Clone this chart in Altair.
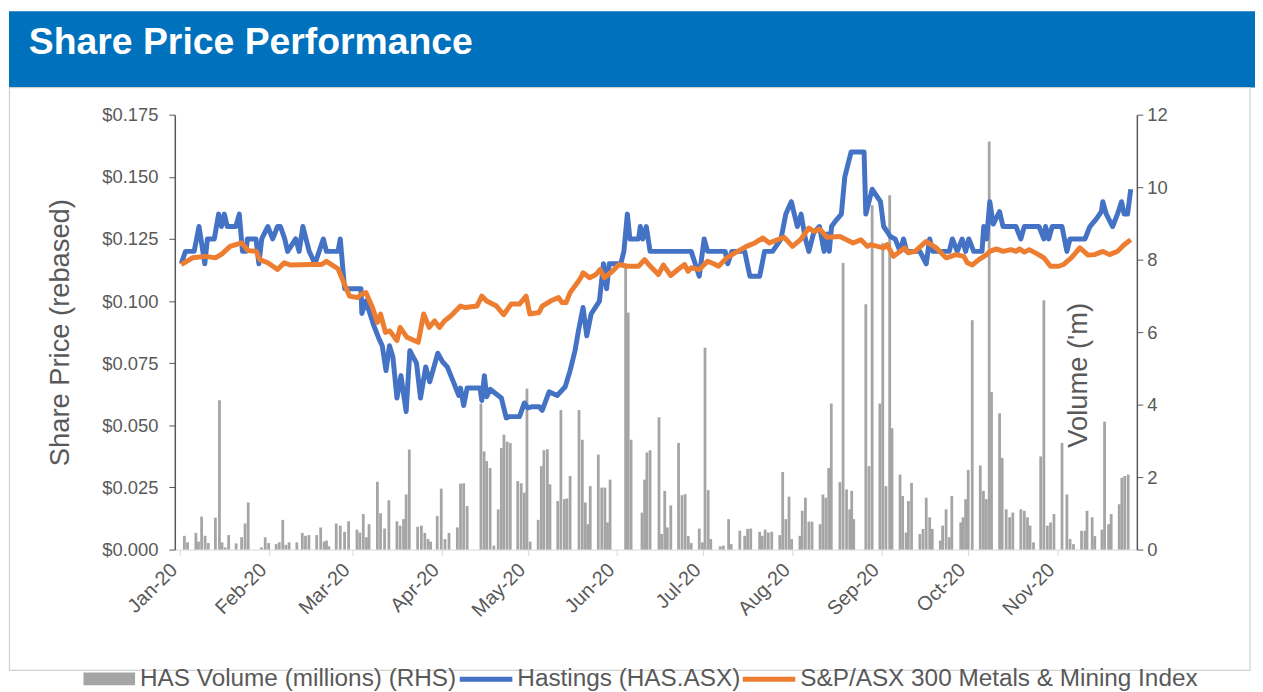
import altair as alt
import pandas as pd

# ---------------- text ----------------
TITLE = "Share Price Performance"
LEFT_TITLE = "Share Price (rebased)"
RIGHT_TITLE = "Volume ('m)"
LEG_VOL = "HAS Volume (millions) (RHS)"
LEG_HAS = "Hastings (HAS.ASX)"
LEG_IDX = "S&P/ASX 300 Metals & Mining Index"
PRICE_TICKS = [0, 0.025, 0.05, 0.075, 0.1, 0.125, 0.15, 0.175]
VOLUME_TICKS = [0, 2, 4, 6, 8, 10, 12]
MONTHS = list(range(1, 12))  # Jan-20 .. Nov-20

# ---------------- data (day = days after 1 Jan 2020) ----------------
hastings = [
    (0.5, 0.115), (2, 0.12), (5, 0.12), (6.7, 0.13), (8.7, 0.115), (9.6, 0.125), (12, 0.125),
    (13.5, 0.135), (14.5, 0.13), (15.5, 0.135), (16.5, 0.13), (19.5, 0.13), (20.7, 0.135),
    (21.8, 0.12), (23, 0.12), (23.5, 0.125), (26.5, 0.125), (27.5, 0.115), (28.5, 0.125),
    (30.6, 0.13), (32.3, 0.125), (34, 0.13), (35, 0.13), (36.5, 0.125), (37.5, 0.12),
    (40.3, 0.125), (41.5, 0.12), (42.8, 0.13), (45, 0.12), (47, 0.115), (49.9, 0.125),
    (51, 0.12), (55, 0.12), (55.8, 0.125), (57.3, 0.105), (63, 0.105), (63.3, 0.095),
    (64.7, 0.1), (67.5, 0.09), (69.2, 0.085), (70.4, 0.082), (71.7, 0.072), (72.9, 0.082),
    (74.1, 0.0775), (75.5, 0.061), (76.9, 0.07), (78.7, 0.0555), (80, 0.08), (82.3, 0.075),
    (83.7, 0.061), (85.5, 0.0735), (86.9, 0.0675), (89.7, 0.079), (91.4, 0.0755), (93, 0.0735),
    (95.3, 0.067), (97, 0.062), (97.6, 0.065), (98.7, 0.058), (99.9, 0.065), (104.4, 0.065),
    (105, 0.06), (105.9, 0.07), (106.7, 0.0615), (107.9, 0.0645), (111.8, 0.061), (113.5, 0.053),
    (114.7, 0.0535), (118.1, 0.0535), (119.8, 0.059), (121, 0.057), (122.6, 0.0575),
    (124.9, 0.0575), (126, 0.056), (128.4, 0.0635), (131.2, 0.062), (134, 0.0655),
    (135.7, 0.072), (137.4, 0.08), (138.6, 0.088), (140.2, 0.0974), (141.5, 0.086),
    (143, 0.0948), (145.9, 0.1), (147.3, 0.115), (148.4, 0.105), (149.3, 0.115), (153.3, 0.115),
    (154.4, 0.12), (155.6, 0.135), (156.5, 0.125), (159.5, 0.125), (160.1, 0.13), (161, 0.125),
    (162.2, 0.13), (163.5, 0.12), (177.8, 0.12), (180.6, 0.11), (182.3, 0.125), (183.5, 0.12),
    (189.6, 0.12), (190.5, 0.115), (191.9, 0.12), (196.4, 0.12), (198.2, 0.11), (201.6, 0.11),
    (203.3, 0.12), (206.1, 0.12), (209, 0.125), (210.7, 0.135), (212.6, 0.14), (214.7, 0.13),
    (216, 0.135), (217.5, 0.125), (218.7, 0.12), (220.4, 0.1275), (222.4, 0.13), (224, 0.12),
    (225.1, 0.127), (225.8, 0.12), (226.6, 0.13), (227.8, 0.132), (230, 0.135), (231.2, 0.15),
    (232.3, 0.155), (233.4, 0.16), (237.9, 0.16), (238.5, 0.135), (240.7, 0.145), (243.6, 0.14),
    (244.7, 0.13), (245.9, 0.128), (247, 0.126), (248.7, 0.125), (250.4, 0.12), (251.6, 0.125),
    (252.7, 0.12), (257.3, 0.12), (259.5, 0.115), (260.7, 0.125), (261.8, 0.12), (267.5, 0.12),
    (268.6, 0.125), (270.3, 0.12), (272, 0.125), (273.2, 0.12), (274.3, 0.125), (276, 0.12),
    (278.9, 0.12), (279.5, 0.13), (280.5, 0.125), (281.6, 0.14), (282.8, 0.131), (285, 0.136),
    (286.2, 0.13), (290.7, 0.13), (292.4, 0.125), (293.6, 0.13), (298.7, 0.13), (300.4, 0.125),
    (301, 0.13), (302.1, 0.125), (303.3, 0.13), (306.7, 0.13), (308.4, 0.12), (309.5, 0.125),
    (314.7, 0.125), (316.4, 0.13), (318.6, 0.133), (320.4, 0.136), (320.9, 0.14), (322.1, 0.135),
    (324.3, 0.13), (326, 0.135), (327.4, 0.14), (328.3, 0.135), (329.5, 0.135), (330.6, 0.145),
]

metals_index = [
    (0.5, 0.1147), (4.4, 0.1174), (9, 0.118), (12.4, 0.1174), (14.7, 0.119), (17.5, 0.122),
    (21.5, 0.1234), (23.8, 0.1203), (26.6, 0.12), (27.8, 0.1167), (30.6, 0.1154), (34, 0.1127),
    (36.3, 0.1154), (38.6, 0.1145), (45.4, 0.1147), (49.3, 0.1147), (51, 0.116), (55, 0.113),
    (57.3, 0.1067), (59, 0.102), (61.9, 0.1014), (63, 0.1027), (64.7, 0.1034), (67, 0.0974),
    (68.7, 0.0914), (69.8, 0.0948), (71.5, 0.0874), (73, 0.088), (75.5, 0.0841), (76.6, 0.0894),
    (79, 0.0854), (82.9, 0.0834), (84.8, 0.0948), (86.7, 0.0894), (88.6, 0.092), (90.3, 0.0894),
    (92, 0.092), (94.2, 0.094), (97.6, 0.098), (99.3, 0.0974), (103.3, 0.098), (105, 0.102),
    (106.7, 0.1), (110.1, 0.098), (112.6, 0.0945), (115.2, 0.0988), (118.1, 0.0988),
    (120.4, 0.102), (121.7, 0.0948), (124.9, 0.0954), (126, 0.098), (128.9, 0.1),
    (131.7, 0.1014), (132.9, 0.0994), (134.3, 0.0994), (135.7, 0.1034), (138.6, 0.108),
    (139.7, 0.11), (140.2, 0.1114), (142.5, 0.1094), (144.7, 0.1107), (146.1, 0.1127),
    (147.6, 0.1094), (150.4, 0.112), (152.7, 0.1147), (155.6, 0.114), (159.5, 0.114),
    (161.6, 0.1167), (163.6, 0.114), (166.4, 0.1107), (168.1, 0.1145), (170.7, 0.1103),
    (173.2, 0.1127), (175.5, 0.1147), (176.7, 0.112), (177.8, 0.1134), (180.6, 0.1127),
    (183.5, 0.116), (186.2, 0.1147), (187.3, 0.114), (190.2, 0.1174), (193, 0.1194),
    (197, 0.122), (199.9, 0.1234), (202.7, 0.1254), (205, 0.1234), (210.1, 0.1257),
    (213, 0.122), (215.8, 0.1247), (218.7, 0.1294), (220.4, 0.128), (222.4, 0.129),
    (225, 0.1257), (229.5, 0.126), (231.8, 0.1247), (234.1, 0.1234), (236.8, 0.1247),
    (239.1, 0.122), (240.2, 0.1227), (244.7, 0.1214), (245.9, 0.1227), (248.1, 0.118),
    (250.4, 0.12), (252.1, 0.1214), (253.3, 0.1194), (255.6, 0.12), (259.5, 0.124),
    (261.2, 0.1227), (263, 0.1214), (266.4, 0.1174), (268.1, 0.118), (269.8, 0.1187),
    (272.6, 0.118), (273.8, 0.1154), (275.5, 0.1145), (277.8, 0.1167), (280.5, 0.1187),
    (281.6, 0.12), (283.9, 0.121), (286.2, 0.12), (289, 0.1207), (290.7, 0.12), (291.9, 0.121),
    (293.6, 0.1197), (295.3, 0.1207), (298.1, 0.119), (300.4, 0.1174), (302.7, 0.114),
    (305.6, 0.114), (307.2, 0.1147), (310.1, 0.1176), (312.9, 0.1214), (315.8, 0.1185),
    (318, 0.1187), (320.9, 0.12), (323.2, 0.1187), (326, 0.12), (328.3, 0.1227), (330.6, 0.1247),
]

volume = [
    (1.6, 0.38), (2.7, 0.2), (5.6, 0.46), (6.5, 0.22), (7.6, 0.91), (8.8, 0.38), (9.9, 0.18),
    (12.4, 0.88), (13.8, 4.12), (14.7, 0.2), (15.8, 0.06), (17.0, 0.4), (19.6, 0.17), (21.5, 0.34),
    (22.7, 0.72), (23.8, 1.3), (28.4, 0.06), (29.7, 0.34), (30.9, 0.18), (33.5, 0.15), (34.6, 0.2),
    (35.8, 0.82), (36.9, 0.13), (38.0, 0.2), (40.7, 0.2), (42.6, 0.46), (43.7, 0.38), (44.9, 0.4),
    (47.6, 0.4), (49.0, 0.61), (50.2, 0.22), (51.0, 0.25), (51.8, 0.09), (54.4, 0.72),
    (55.8, 0.66), (57.3, 0.49), (58.7, 0.78), (61.6, 0.55), (62.6, 0.47), (63.8, 0.98),
    (64.9, 0.34), (65.8, 0.7), (68.7, 1.87), (69.8, 1.0), (71.2, 0.58), (72.7, 1.36),
    (75.5, 0.78), (76.6, 0.66), (77.8, 0.84), (78.7, 1.52), (79.8, 2.76), (82.7, 0.63),
    (84.0, 0.66), (85.2, 0.46), (86.3, 0.29), (87.2, 0.22), (89.5, 0.93), (90.9, 1.68),
    (92.2, 0.29), (93.6, 0.46), (96.5, 0.61), (97.6, 1.82), (98.7, 1.83), (99.9, 1.2),
    (104.7, 4.03), (105.8, 2.71), (106.7, 2.44), (107.9, 2.25), (109.2, 0.11), (110.7, 1.11),
    (111.8, 2.8), (112.7, 3.17), (113.8, 2.98), (114.9, 2.94), (117.5, 1.89), (118.7, 1.83),
    (119.8, 1.57), (120.7, 4.44), (121.8, 0.22), (124.6, 0.82), (125.7, 2.3), (126.6, 2.74),
    (127.8, 2.77), (128.7, 1.8), (131.4, 1.34), (132.5, 3.85), (133.7, 1.39), (134.6, 1.41),
    (135.7, 2.03), (138.8, 3.85), (139.95, 3.03), (141.0, 1.3), (141.9, 0.7), (142.7, 1.75),
    (145.5, 2.62), (146.7, 1.71), (147.8, 1.71), (148.7, 0.75), (149.6, 1.93), (155.0, 7.77),
    (155.9, 6.54), (156.9, 3.03), (160.7, 1.02), (161.6, 1.93), (162.4, 2.68), (163.5, 2.74),
    (166.6, 3.65), (167.5, 0.43), (168.6, 1.62), (169.5, 0.61), (170.7, 1.22), (173.4, 2.94),
    (174.6, 1.5), (175.7, 1.53), (176.8, 0.37), (177.8, 0.18), (180.6, 0.58), (181.7, 0.2),
    (182.6, 5.57), (183.7, 1.64), (184.6, 0.29), (187.9, 0.09), (189.0, 0.11), (190.8, 0.84),
    (191.7, 0.15), (194.7, 0.52), (196.4, 0.38), (197.4, 0.57), (198.5, 0.58), (201.6, 0.49),
    (202.5, 0.38), (203.5, 0.55), (204.6, 0.47), (205.8, 0.49), (208.6, 0.4), (209.6, 2.14),
    (210.7, 0.84), (211.8, 1.46), (212.7, 0.29), (215.6, 0.38), (216.4, 1.07), (217.5, 1.43),
    (218.7, 0.77), (219.8, 0.77), (222.6, 0.7), (223.6, 1.52), (224.6, 1.43), (225.6, 2.25),
    (226.5, 4.03), (229.5, 1.86), (230.6, 7.91), (231.8, 1.66), (232.9, 1.11), (233.6, 1.62),
    (234.3, 0.84), (238.5, 6.77), (239.6, 2.3), (240.7, 9.5), (243.4, 4.03), (244.4, 8.46),
    (245.5, 1.75), (246.8, 9.78), (247.6, 3.35), (250.4, 2.07), (251.3, 1.48), (252.5, 0.47),
    (253.3, 1.34), (254.4, 1.84), (257.3, 0.43), (258.4, 0.57), (259.5, 1.43), (260.7, 0.89),
    (261.6, 0.57), (264.4, 0.25), (265.2, 0.66), (266.4, 1.11), (267.5, 0.34), (268.4, 1.48),
    (271.5, 0.75), (272.3, 0.89), (273.2, 1.39), (274.1, 2.2), (275.5, 6.33), (278.3, 2.32),
    (279.4, 1.62), (280.4, 1.39), (281.4, 11.26), (282.2, 4.35), (285.0, 3.76), (285.9, 2.53),
    (287.3, 1.11), (288.5, 0.89), (289.6, 1.02), (292.4, 1.11), (293.6, 1.07), (294.7, 0.89),
    (295.6, 0.66), (296.8, 0.2), (299.3, 2.57), (300.4, 6.88), (301.6, 0.66), (302.7, 0.75),
    (303.9, 0.98), (306.7, 2.94), (308.4, 1.52), (309.5, 0.29), (310.7, 0.15), (313.5, 0.52),
    (314.7, 0.52), (315.4, 1.07), (317.2, 0.89), (318.1, 0.37), (320.6, 0.55), (321.5, 3.53),
    (322.9, 0.7), (323.8, 0.98), (326.6, 1.25), (327.5, 1.98), (328.5, 2.03), (329.7, 2.07),
]

START = pd.Timestamp("2020-01-01")


def frame(pairs, col):
    df = pd.DataFrame(pairs, columns=["day", col])
    df["date"] = (START + pd.to_timedelta(df["day"], unit="D")).dt.strftime("%Y-%m-%dT%H:%M:%S")
    return df


has_df = frame(hastings, "price")
idx_df = frame(metals_index, "price")
vol_df = frame(volume, "vol")

# ---------------- style ----------------
FONT = "Liberation Sans"
GREY_TXT = "#595959"
BLUE = "#4472C4"
ORANGE = "#ED7D31"
BAR = "#A5A5A5"
HEADER = "#0071BC"

W, H = 969, 438
OX, OY = 175, 112.3  # page position of plot origin (for decorations)

x_enc = alt.X(
    "date:T",
    scale=alt.Scale(domain=[alt.DateTime(year=2020, month=1, date=1),
                            alt.DateTime(year=2020, month=11, date=27)]),
    axis=alt.Axis(
        values=[alt.DateTime(year=2020, month=m, date=1) for m in MONTHS],
        format="%b-%y", labelAngle=315, labelAlign="right", labelBaseline="middle",
        labelFontSize=20, labelColor=GREY_TXT, labelPadding=11, labelOffset=-6,
        labelOverlap=False,
        domainColor="#D9D9D9", tickColor="#D9D9D9", tickSize=6, grid=False, title=None,
    ),
)

y_price = alt.Y(
    "price:Q",
    scale=alt.Scale(domain=[0, 0.175], nice=False, zero=True),
    axis=alt.Axis(
        orient="left", values=PRICE_TICKS, format="$.3f", grid=False,
        labelFontSize=18.5, labelColor=GREY_TXT, labelPadding=11,
        domainColor=GREY_TXT, tickColor=GREY_TXT, tickSize=6, domainWidth=1.5,
        title=LEFT_TITLE, titleFontSize=27.5, titleFontWeight="normal", titleColor=GREY_TXT,
        titleAngle=270, titleX=-115, titleY=H / 2, titleAlign="center", titleBaseline="middle",
    ),
)

y_vol = alt.Y(
    "vol:Q",
    scale=alt.Scale(domain=[0, 12], nice=False, zero=True),
    axis=alt.Axis(
        orient="right", values=VOLUME_TICKS, format="d", grid=False,
        labelFontSize=18.5, labelColor=GREY_TXT, labelPadding=4,
        domainColor=GREY_TXT, tickColor=GREY_TXT, tickSize=6, domainWidth=1.5,
        title=RIGHT_TITLE, titleFontSize=27.5, titleFontWeight="normal", titleColor=GREY_TXT,
        titleAngle=270, titleX=-59, titleY=262, titleAlign="center", titleBaseline="middle",
    ),
)

bars = alt.Chart(vol_df).mark_bar(size=2.8, color=BAR).encode(x=x_enc, y=y_vol)
has_line = alt.Chart(has_df).mark_line(color=BLUE, strokeWidth=5, strokeJoin="round").encode(x=x_enc, y=y_price)
idx_line = alt.Chart(idx_df).mark_line(color=ORANGE, strokeWidth=5, strokeJoin="round").encode(x=x_enc, y=y_price)
lines = alt.layer(has_line, idx_line)

one = pd.DataFrame({"k": [0]})
base = alt.Chart(one)

header = base.mark_rect(color=HEADER).encode(
    x=alt.value(8 - OX), x2=alt.value(1263 - OX), y=alt.value(8 - OY), y2=alt.value(85 - OY))
title_txt = base.mark_text(text=TITLE, font=FONT, fontSize=37.6, fontWeight="bold", color="white",
                           align="left", baseline="alphabetic").encode(
    x=alt.value(28 - OX), y=alt.value(51 - OY))
border = base.mark_rect(fillOpacity=0, stroke="#D0D0D0", strokeWidth=1.2).encode(
    x=alt.value(8.5 - OX), x2=alt.value(1258 - OX), y=alt.value(85 - OY), y2=alt.value(672 - OY))

leg_sq = base.mark_rect(color=BAR).encode(
    x=alt.value(83 - OX), x2=alt.value(135 - OX), y=alt.value(674 - OY), y2=alt.value(687 - OY))
leg_blue = base.mark_rule(color=BLUE, strokeWidth=5).encode(
    x=alt.value(462 - OX), x2=alt.value(515 - OX), y=alt.value(681 - OY))
leg_orange = base.mark_rule(color=ORANGE, strokeWidth=5).encode(
    x=alt.value(747 - OX), x2=alt.value(800 - OX), y=alt.value(681 - OY))
leg_style = dict(font=FONT, fontSize=24.5, color=GREY_TXT, align="left", baseline="alphabetic")
leg_t1 = base.mark_text(text=LEG_VOL, **leg_style).encode(x=alt.value(140 - OX), y=alt.value(688 - OY))
leg_t2 = base.mark_text(text=LEG_HAS, **leg_style).encode(x=alt.value(520 - OX), y=alt.value(688 - OY))
leg_t3 = base.mark_text(text=LEG_IDX, **leg_style).encode(x=alt.value(805 - OX), y=alt.value(688 - OY))

chart = alt.layer(
    header, border, title_txt, bars, lines,
    leg_sq, leg_blue, leg_orange, leg_t1, leg_t2, leg_t3,
).resolve_scale(y="independent").properties(
    width=W, height=H, padding=0, background="white"
).configure(font=FONT).configure_view(stroke="transparent")

chart.save("out.html", embed_options={"renderer": "svg", "actions": False})
